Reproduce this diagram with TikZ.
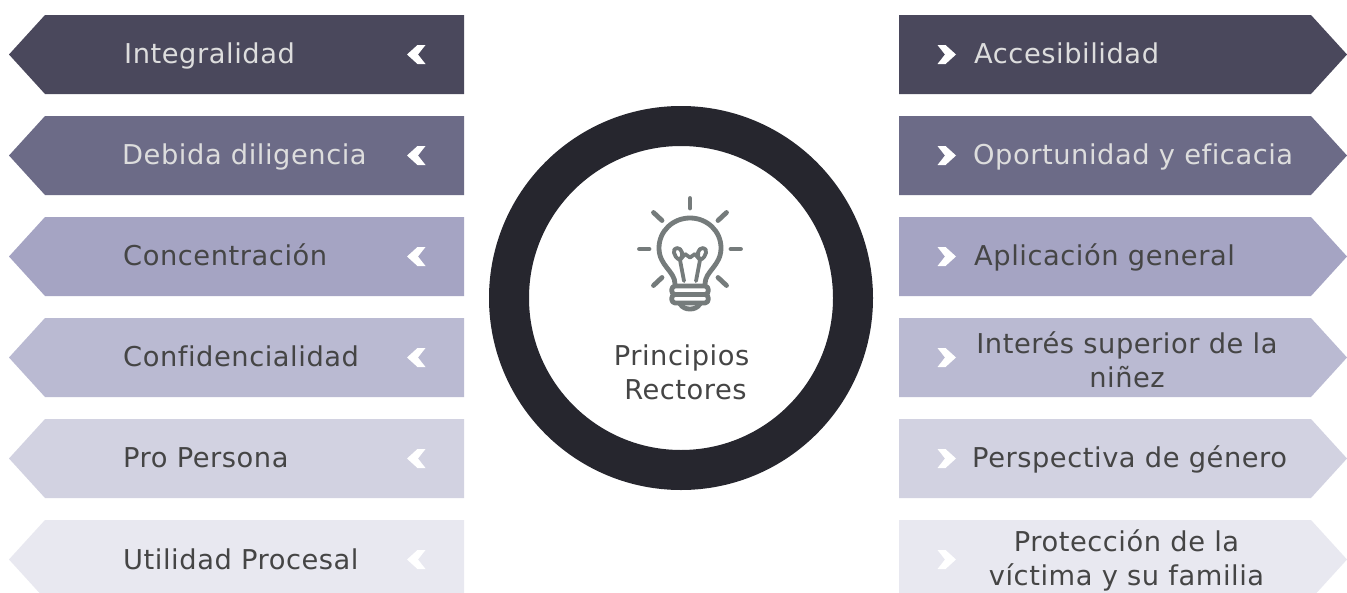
\documentclass[tikz,border=0pt]{standalone}
\usepackage{fontspec}
\setmainfont{DejaVu Sans}[LetterSpace=2,Ligatures=NoCommon]
\definecolor{rowa}{HTML}{4A485C}
\definecolor{rowb}{HTML}{6C6B87}
\definecolor{rowc}{HTML}{A5A4C3}
\definecolor{rowd}{HTML}{BABAD2}
\definecolor{rowe}{HTML}{D2D2E1}
\definecolor{rowf}{HTML}{E8E8F0}
\definecolor{ringc}{HTML}{26262E}
\definecolor{bulbc}{HTML}{757B7B}
\definecolor{txtdark}{HTML}{454545}
\definecolor{txtlight}{HTML}{DDDDDD}
\tikzset{
  x=1pt,y=-1pt,
  lab/.style={anchor=base west,inner sep=0pt,font=\fontsize{27.3}{34}\selectfont},
  labc/.style={anchor=base,inner sep=0pt,font=\fontsize{27.3}{34}\selectfont},
  bulbline/.style={draw=bulbc,line width=4.8pt,line cap=round,line join=round},
  bulbthin/.style={bulbline,line width=3.8pt}
}
\newcommand{\leftbanner}[3]{%
  \fill[#1] (9,#2+39.5) -- (45,#2) -- (464,#2) -- (464,#2+79) -- (45,#2+79) -- cycle;
  \fill[#3] (407,#2+39.5) -- (417.5,#2+30) -- (425.5,#2+30) -- (418,#2+39.5) -- (425.5,#2+49) -- (417.5,#2+49) -- cycle;}
\newcommand{\rightbanner}[3]{%
  \fill[#1] (899,#2) -- (1311,#2) -- (1347,#2+39.5) -- (1311,#2+79) -- (899,#2+79) -- cycle;
  \fill[#3] (956,#2+39.5) -- (945.5,#2+30) -- (937.5,#2+30) -- (945,#2+39.5) -- (937.5,#2+49) -- (945.5,#2+49) -- cycle;}
\begin{document}
\begin{tikzpicture}
\useasboundingbox (0,0) rectangle (1347,592);
\clip (0,0) rectangle (1347,592);
\fill[white] (0,0) rectangle (1347,592);
\leftbanner{rowa}{15}{white}
\leftbanner{rowb}{116}{white}
\leftbanner{rowc}{217}{white}
\leftbanner{rowd}{318}{white}
\leftbanner{rowe}{419}{white}
\leftbanner{rowf}{520}{white}
\rightbanner{rowa}{15}{white}
\rightbanner{rowb}{116}{white}
\rightbanner{rowc}{217}{white}
\rightbanner{rowd}{318}{white}
\rightbanner{rowe}{419}{white}
\rightbanner{rowf}{520}{white}
\node[lab,text=txtlight] (l1) at (124,63.5) {Integralidad};
\node[lab,text=txtlight] (l2) at (122,164.5) {Debida diligencia};
\node[lab,text=txtdark] (l3) at (123,265.5) {Concentración};
\node[lab,text=txtdark] (l4) at (123,366.5) {Confidencialidad};
\node[lab,text=txtdark] (l5) at (123,467.5) {Pro Persona};
\node[lab,text=txtdark] (l6) at (123,569) {Utilidad Procesal};
\node[lab,text=txtlight] (r1) at (974,63.5) {Accesibilidad};
\node[lab,text=txtlight] (r2) at (973,164.5) {Oportunidad y eficacia};
\node[lab,text=txtdark] (r3) at (974,265.5) {Aplicación general};
\node[labc,text=txtdark] (r4a) at (1127,353.5) {Interés superior de la};
\node[labc,text=txtdark] (r4b) at (1127,387.5) {niñez};
\node[lab,text=txtdark] (r5) at (972,467.5) {Perspectiva de género};
\node[labc,text=txtdark] (r6a) at (1126.5,551.5) {Protección de la};
\node[labc,text=txtdark] (r6b) at (1126.5,585.5) {víctima y su familia};
\draw[ringc,line width=40pt] (681,298) circle[radius=172];
\node[labc,text=txtdark] (c1) at (681.5,365.5) {Principios};
\node[labc,text=txtdark] (c2) at (685.5,399.5) {Rectores};
% bulb rays
\draw[bulbline] (690,198.5) -- (690,208);
\draw[bulbline] (639.5,249) -- (649,249);
\draw[bulbline] (731,249) -- (740.5,249);
\draw[bulbline] (653.5,212.5) -- (662,220.5);
\draw[bulbline] (726.5,212.5) -- (718,220.5);
\draw[bulbline] (653.5,285.5) -- (662,277.5);
\draw[bulbline] (726.5,285.5) -- (718,277.5);
% bulb glass
\draw[bulbline] (675,284) .. controls (675,271) and (659,266) .. (659,248)
  .. controls (659,231) and (673,218) .. (690,218)
  .. controls (707,218) and (721,231) .. (721,248)
  .. controls (721,266) and (705,271) .. (705,284);
% filament
\draw[bulbthin] (684,281) -- (680,260) .. controls (673,257) and (672,248) .. (677,248)
  .. controls (682,248) and (684,255) .. (680,260) -- (685,254) -- (690,257.5) -- (695,254) -- (700,260)
  .. controls (696,255) and (698,248) .. (703,248) .. controls (708,248) and (707,257) .. (700,260) -- (696,281);
% base
\draw[bulbline] (675,286) -- (705,286) .. controls (709.5,286) and (709.5,294.5) .. (705,294.5) -- (675,294.5)
  .. controls (670.5,294.5) and (670.5,286) .. (675,286);
\draw[bulbline] (675,294.5) .. controls (670.5,294.5) and (670.5,303) .. (675,303) -- (705,303)
  .. controls (709.5,303) and (709.5,294.5) .. (705,294.5);
\draw[bulbline] (680,304) .. controls (683,308) and (686,309) .. (690,309)
  .. controls (694,309) and (697,308) .. (700,304);
\end{tikzpicture}
\end{document}
